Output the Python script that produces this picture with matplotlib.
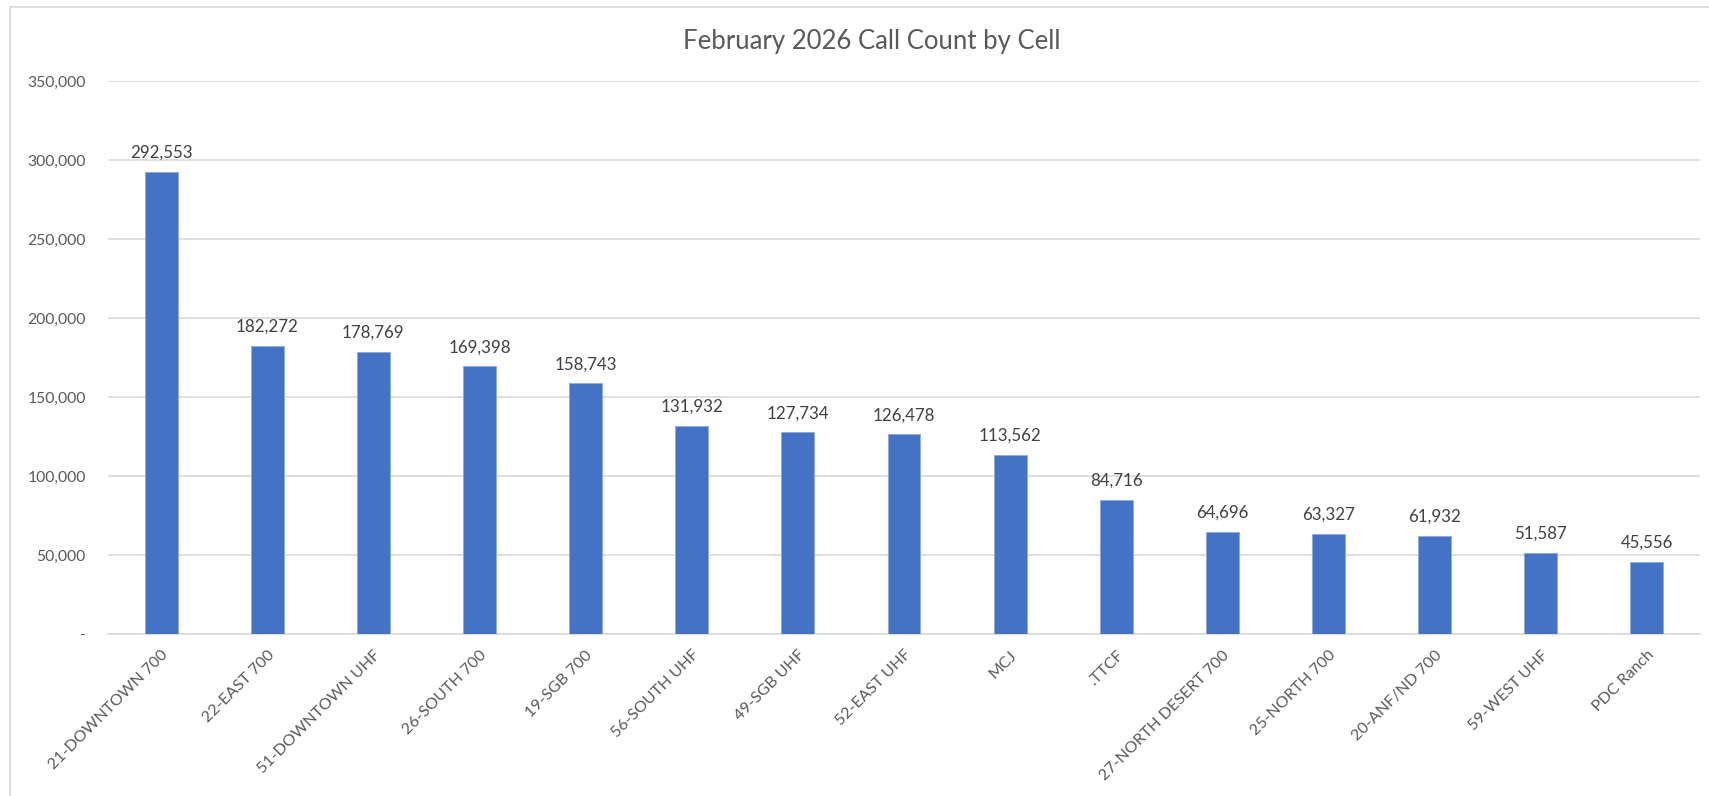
"""
February 2026 call count by cell, Excel-style column chart.
"""

import matplotlib
matplotlib.use("Agg")
import matplotlib.pyplot as plt
from matplotlib.patches import Rectangle
from matplotlib.ticker import FuncFormatter

cells = [
    "21-DOWNTOWN 700", "22-EAST 700", "51-DOWNTOWN UHF", "26-SOUTH 700",
    "19-SGB 700", "56-SOUTH UHF", "49-SGB UHF", "52-EAST UHF", "MCJ", ".TTCF",
    "27-NORTH DESERT 700", "25-NORTH 700", "20-ANF/ND 700", "59-WEST UHF",
    "PDC Ranch",
]
call_counts = [
    292553, 182272, 178769, 169398, 158743, 131932, 127734, 126478, 113562,
    84716, 64696, 63327, 61932, 51587, 45556,
]
y_ticks = [0, 50000, 100000, 150000, 200000, 250000, 300000, 350000]

plt.rcParams["font.family"] = ["Lato", "DejaVu Sans"]
text_color = "#595959"
grid_color = "#d9d9d9"

fig = plt.figure(figsize=(17.09, 7.96), dpi=100)
ax = fig.add_axes([0.0632, 0.2035, 0.9315, 0.6945])

# chart border (top and left visible in reference)
fig.patches.append(Rectangle((10 / 1709, -0.1), 1.2, 1.1 - 7 / 796,
                             transform=fig.transFigure, fill=False,
                             edgecolor=grid_color, linewidth=1.2))

x = range(len(cells))
bars = ax.bar(x, call_counts, width=0.31, color="#4472C4",
              edgecolor="#8FAADC", linewidth=0.6, zorder=3)

for xi, v in zip(x, call_counts):
    ax.annotate(f"{v:,}", (xi, v), xytext=(0, 8), textcoords="offset points",
                ha="center", va="bottom", fontsize=12.2, color="#404040")

ax.set_xlim(-0.5, len(cells) - 0.5)
ax.set_ylim(0, 350000)
ax.set_yticks(y_ticks)
ax.yaxis.set_major_formatter(FuncFormatter(lambda v, p: "-" if v == 0 else f"{int(v):,}"))
ax.grid(axis="y", color=grid_color, linewidth=1.2, zorder=0)
ax.set_xticks(list(x))
ax.set_xticklabels(cells, rotation=45, ha="right", rotation_mode="anchor",
                   fontsize=11.5, color=text_color)
ax.tick_params(axis="y", length=0, pad=16, labelsize=11.3, labelcolor=text_color)
ax.tick_params(axis="x", length=0, pad=10)

for side in ["top", "right", "left"]:
    ax.spines[side].set_visible(False)
ax.spines["bottom"].set_color(grid_color)
ax.spines["bottom"].set_linewidth(1.2)

fig.text(0.51, 0.948, "February 2026 Call Count by Cell", ha="center",
         va="center", fontsize=18.5, color=text_color)

fig.savefig("out.png", dpi=100, facecolor="white")
